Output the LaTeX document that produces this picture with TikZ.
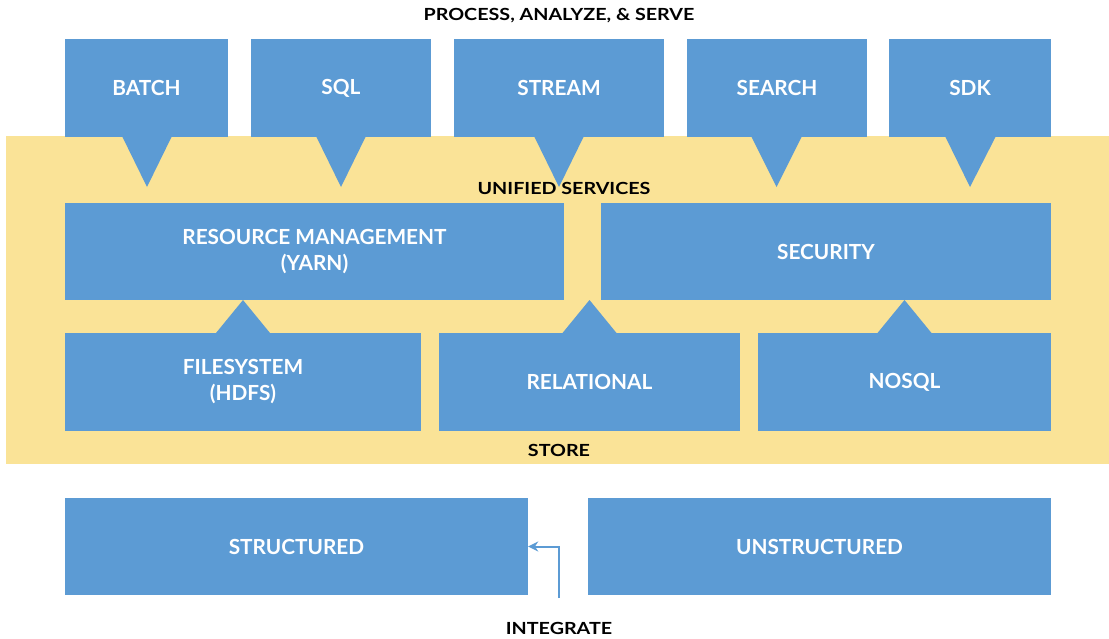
\documentclass[tikz,border=0pt]{standalone}
\usepackage{fontspec}
\setmainfont{Lato}
\newfontfamily\widelato{Lato}[FakeStretch=1.18]
\usetikzlibrary{arrows.meta}
\definecolor{boxblue}{HTML}{5C9BD4}
\definecolor{bandyellow}{HTML}{FAE397}

\begin{document}
\begin{tikzpicture}[x=1pt,y=-1pt,
    box/.style={fill=boxblue,inner sep=0pt,text=white,align=center,
        font=\fontsize{20.8}{26}\selectfont\bfseries},
    caption/.style={inner sep=0pt,text=black,font=\widelato\fontsize{16.7}{18}\selectfont\bfseries}]

			\useasboundingbox (0,0) rectangle (1109,638);
			%band behind the services and stores
			\fill[bandyellow] (6,136) rectangle (1109,464);

			%process row
			\node[box,minimum width=163pt,minimum height=98pt] (batch) at (146.5,88) {BATCH};
			\node[box,minimum width=180pt,minimum height=98pt] (sql) at (341,88) {SQL};
			\node[box,minimum width=210pt,minimum height=98pt] (stream) at (559,88) {STREAM};
			\node[box,minimum width=180pt,minimum height=98pt] (search) at (777,88) {SEARCH};
			\node[box,minimum width=162pt,minimum height=98pt] (sdk) at (970,88) {SDK};
			\fill[boxblue] (122,136) -- (147,187) -- (172,136) -- cycle;
			\fill[boxblue] (316,136) -- (341,187) -- (366,136) -- cycle;
			\fill[boxblue] (534,136) -- (559,187) -- (584,136) -- cycle;
			\fill[boxblue] (751,136) -- (776.5,187) -- (802,136) -- cycle;
			\fill[boxblue] (945,136) -- (970,187) -- (996,136) -- cycle;

			%unified services
			\node[box,minimum width=499pt,minimum height=97pt] (yarn) at (314.5,251.5) {RESOURCE MANAGEMENT\\(YARN)};
			\node[box,minimum width=450pt,minimum height=97pt] (security) at (826,251.5) {SECURITY};

			%store row
			\node[box,minimum width=356pt,minimum height=98pt] (hdfs) at (243,382) {FILESYSTEM\\(HDFS)};
			\node[box,minimum width=301pt,minimum height=98pt] (relational) at (589.5,382) {RELATIONAL};
			\node[box,minimum width=293pt,minimum height=98pt] (nosql) at (904.5,382) {NOSQL};
			\fill[boxblue] (216,333) -- (243,300) -- (270,333) -- cycle;
			\fill[boxblue] (562.5,333) -- (589.5,300) -- (616.5,333) -- cycle;
			\fill[boxblue] (877.5,333) -- (904.5,300) -- (931.5,333) -- cycle;

			%integrate row
			\node[box,minimum width=463pt,minimum height=97pt] (structured) at (296.5,546.5) {STRUCTURED};
			\node[box,minimum width=463pt,minimum height=97pt] (unstructured) at (819.5,546.5) {UNSTRUCTURED};
			\coordinate (intfoot) at (559,598);
			\draw[boxblue,line width=2pt,-{Stealth[length=10pt,width=10pt]}] (intfoot) |- (structured.east);

			\node[caption] (process) at (559,16) {PROCESS, ANALYZE, \& SERVE};
			\node[caption] (unified) at (564,188) {UNIFIED SERVICES};
			\node[caption] (store) at (559,450) {STORE};
			\node[caption] (integrate) at (559,628) {INTEGRATE};

\end{tikzpicture}
\end{document}
